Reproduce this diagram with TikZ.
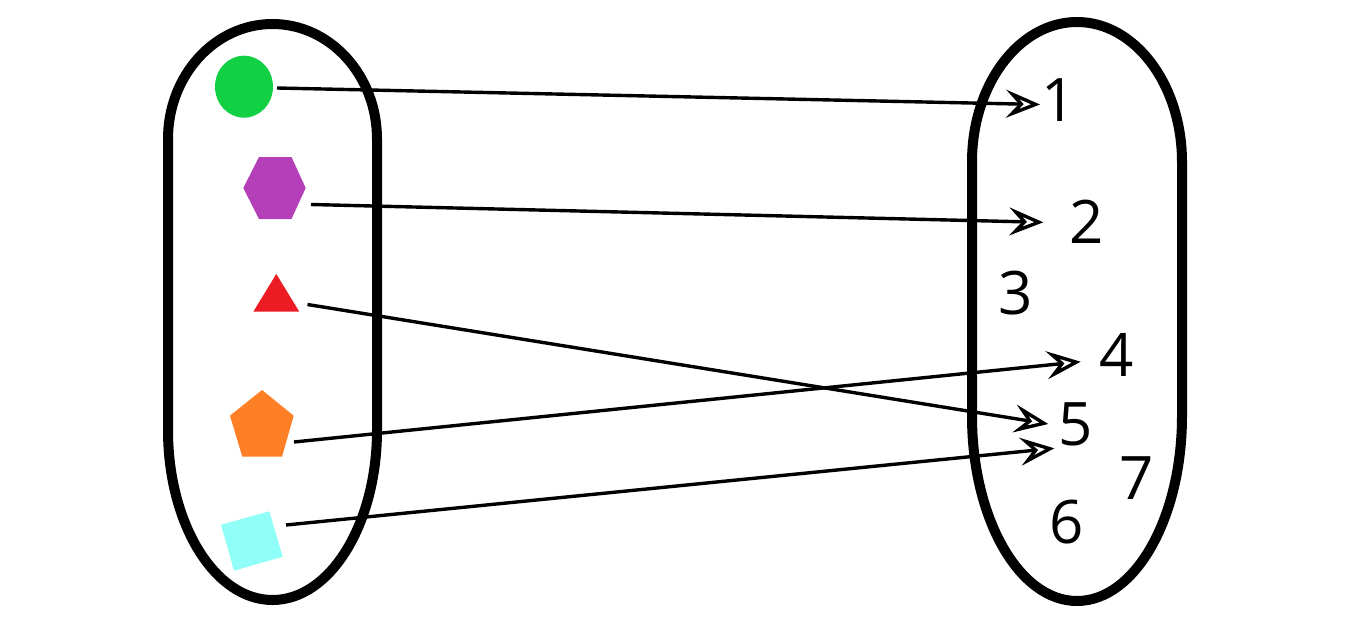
\documentclass[tikz,border=0pt]{standalone}
\usepackage{fontspec}
\setmainfont{Open Sans}
\usetikzlibrary{arrows.meta}
\definecolor{cgreen}{RGB}{17,208,68}
\definecolor{cpurple}{RGB}{180,63,184}
\definecolor{cred}{RGB}{237,28,36}
\definecolor{corange}{RGB}{255,127,39}
\definecolor{ccyan}{RGB}{143,255,247}
\begin{document}
\begin{tikzpicture}[x=1pt,y=-1pt,
  setline/.style={line width=10pt},
  maparrow/.style={line width=3.4pt,-{Stealth[open,length=34pt,width=28pt,inset=13pt]}},
  num/.style={inner sep=0pt,font=\fontsize{60}{60}\selectfont}]
\useasboundingbox (0,0) rectangle (1350,629);
% left set
\draw[setline] (168,139) -- (168,430) arc[start angle=180,end angle=0,x radius=104.5,y radius=170]
  -- (377,139) arc[start angle=0,end angle=-180,x radius=104.5,y radius=115] -- cycle;
% right set
\draw[setline] (972,162) -- (972,416) arc[start angle=180,end angle=0,x radius=105,y radius=185]
  -- (1182,162) arc[start angle=0,end angle=-180,x radius=105,y radius=140] -- cycle;
% shapes
\fill[cgreen] (244,86.7) ellipse[x radius=29,y radius=31];
\fill[cpurple] (243.3,188) -- (259,157) -- (291.5,157) -- (305.7,188) -- (291.5,219) -- (259,219) -- cycle;
\fill[cred] (276.3,274) -- (299.3,311.7) -- (253.3,311.7) -- cycle;
\fill[corange] (262,390) -- (293.7,415.7) -- (282,456.7) -- (242.3,456.7) -- (230,415.7) -- cycle;
\fill[ccyan] (221,524.7) -- (269.3,511.3) -- (282.7,556.7) -- (234,570.7) -- cycle;
% labels
\node[num] (n1) at (1059,100.5) {1};
\node[num] (n2) at (1087,222) {2};
\node[num] (n3) at (1015.5,293) {3};
\node[num] (n4) at (1116.7,354.5) {4};
\node[num] (n5) at (1075.6,424) {5};
\node[num] (n6) at (1066.7,521.7) {6};
\node[num] (n7) at (1137,478) {7};
% connector ends
\coordinate (s1) at (277,88);
\coordinate (s2) at (311,204.5);
\coordinate (s3) at (307.5,304.5);
\coordinate (s4) at (294,442);
\coordinate (s5) at (286,525);
\coordinate (t1) at (1040,104.5);
\coordinate (t2) at (1043.3,222.3);
\coordinate (t5a) at (1048.3,424);
\coordinate (t4) at (1080.7,361.7);
\coordinate (t5b) at (1054.3,448.3);
\draw[maparrow] (s1) -- (t1);
\draw[maparrow] (s2) -- (t2);
\draw[maparrow] (s3) -- (t5a);
\draw[maparrow] (s4) -- (t4);
\draw[maparrow] (s5) -- (t5b);
\end{tikzpicture}
\end{document}
